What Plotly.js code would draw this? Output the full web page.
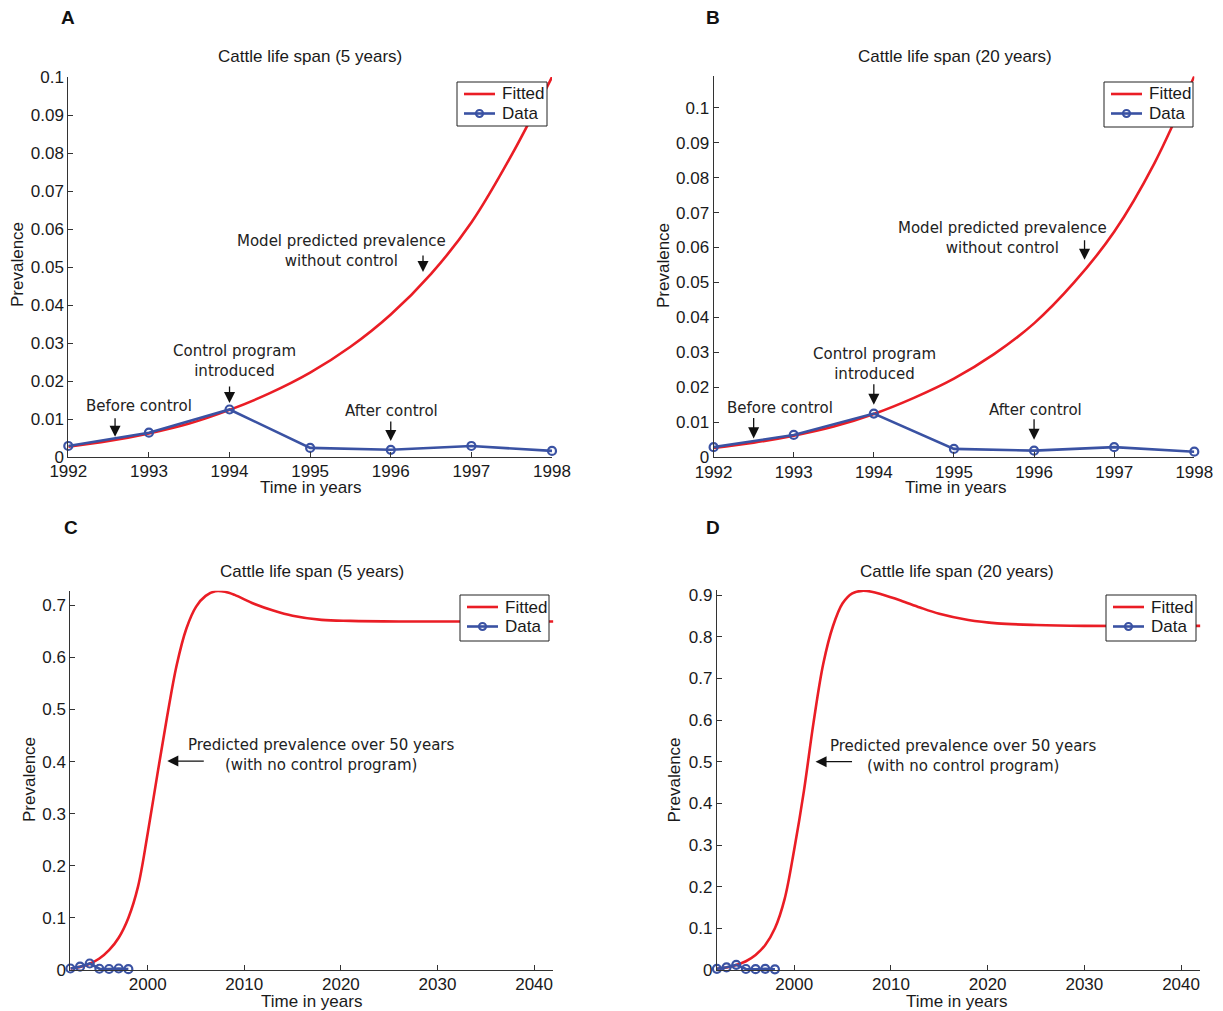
<!DOCTYPE html>
<html>
<head>
<meta charset="utf-8">
<script src="https://cdn.plot.ly/plotly-3.0.1.min.js"></script>
<style>
  html, body { margin: 0; padding: 0; background: #fff; }
  #chart { width: 1223px; height: 1011px; }
</style>
</head>
<body>
<div id="chart"></div>
<script>
// ---------------- data ----------------
const years = [1992, 1993, 1994, 1995, 1996, 1997, 1998];
const dataPrevalence = [0.0029, 0.0064, 0.0125, 0.0024, 0.0019, 0.0029, 0.0016];

const fitShortX = [1992, 1992.5, 1993, 1993.5, 1994, 1994.5, 1995, 1995.5, 1996, 1996.5, 1997, 1997.5, 1998];
const fitA = [0.0027, 0.0042, 0.0062, 0.0088, 0.0124, 0.0168, 0.0222, 0.0290, 0.0375, 0.0482, 0.0617, 0.0795, 0.1000];
const fitB = [0.0027, 0.0042, 0.0062, 0.0088, 0.0124, 0.0170, 0.0225, 0.0295, 0.0383, 0.0500, 0.0645, 0.0840, 0.1090];

const fitCX = [1992, 1993, 1994, 1995, 1996, 1997, 1998, 1999, 2000, 2001, 2002, 2003, 2004, 2005, 2006, 2007, 2008, 2009, 2011, 2013, 2015, 2018, 2021, 2026, 2034, 2042];
const fitC  = [0.003, 0.006, 0.012, 0.022, 0.038, 0.062, 0.100, 0.160, 0.262, 0.375, 0.485, 0.585, 0.655, 0.697, 0.718, 0.727, 0.726, 0.720, 0.703, 0.690, 0.680, 0.672, 0.670, 0.669, 0.669, 0.669];

const fitDX = [1992, 1993, 1994, 1995, 1996, 1997, 1998, 1999, 2000, 2001, 2002, 2003, 2004, 2005, 2006, 2007, 2008, 2009, 2011, 2013, 2015, 2018, 2021, 2025, 2030, 2042];
const fitD  = [0.003, 0.006, 0.012, 0.021, 0.036, 0.060, 0.100, 0.170, 0.290, 0.430, 0.595, 0.735, 0.825, 0.880, 0.904, 0.910, 0.908, 0.902, 0.887, 0.870, 0.855, 0.840, 0.832, 0.828, 0.826, 0.826];

const tickValsAB = [0, 0.01, 0.02, 0.03, 0.04, 0.05, 0.06, 0.07, 0.08, 0.09, 0.1];
const tickTextAB = ['0', '0.01', '0.02', '0.03', '0.04', '0.05', '0.06', '0.07', '0.08', '0.09', '0.1'];
const tickValsC = [0, 0.1, 0.2, 0.3, 0.4, 0.5, 0.6, 0.7];
const tickTextC = ['0', '0.1', '0.2', '0.3', '0.4', '0.5', '0.6', '0.7'];
const tickValsD = [0, 0.1, 0.2, 0.3, 0.4, 0.5, 0.6, 0.7, 0.8, 0.9];
const tickTextD = ['0', '0.1', '0.2', '0.3', '0.4', '0.5', '0.6', '0.7', '0.8', '0.9'];
const xTicksShort = [1992, 1993, 1994, 1995, 1996, 1997, 1998];
const xTicksLong = [2000, 2010, 2020, 2030, 2040];

const panelTitles = ['Cattle life span (5 years)', 'Cattle life span (20 years)', 'Cattle life span (5 years)', 'Cattle life span (20 years)'];
const panelLetters = ['A', 'B', 'C', 'D'];
const seriesNames = ['Fitted', 'Data'];

// ---------------- styling helpers ----------------
const W = 1223, H = 1011;
const px = x => x / W;
const py = y => 1 - y / H;
const RED = '#ea1d25';
const BLUE = '#3a52a3';
const AX = '#333333';
const TXT = '#1a1a1a';
const MAIN_FONT = 'Liberation Sans, Arial, sans-serif';
const NOTE_FONT = 'DejaVu Sans, sans-serif';

function fitted(x, y, xa, ya) {
  return { x: x, y: y, xaxis: xa, yaxis: ya, type: 'scatter', mode: 'lines', name: seriesNames[0],
    line: { color: RED, width: 2.6, shape: 'spline', smoothing: 1 }, cliponaxis: false, showlegend: false };
}
function observed(xa, ya) {
  return { x: years, y: dataPrevalence, xaxis: xa, yaxis: ya, type: 'scatter', mode: 'lines+markers', name: seriesNames[1],
    line: { color: BLUE, width: 2.6 }, marker: { symbol: 'circle-open', size: 8, color: BLUE, line: { width: 2.2, color: BLUE } },
    cliponaxis: false, showlegend: false };
}

const traces = [
  fitted(fitShortX, fitA, 'x', 'y'),
  observed('x', 'y'),
  fitted(fitShortX, fitB, 'x2', 'y2'),
  observed('x2', 'y2'),
  fitted(fitCX, fitC, 'x3', 'y3'),
  observed('x3', 'y3'),
  fitted(fitDX, fitD, 'x4', 'y4'),
  observed('x4', 'y4')
];

function xaxis(domain, range, tickvals, anchor) {
  return { domain: domain, range: range, anchor: anchor, tickmode: 'array', tickvals: tickvals,
    ticktext: tickvals.map(String), showline: true, linecolor: AX, linewidth: 1, ticks: 'inside', ticklen: 5,
    tickcolor: AX, showgrid: false, zeroline: false, tickfont: { family: MAIN_FONT, size: 17, color: TXT },
    ticklabelstandoff: -1, fixedrange: true };
}
function yaxis(domain, range, tickvals, ticktext, anchor) {
  return { domain: domain, range: range, anchor: anchor, tickmode: 'array', tickvals: tickvals, ticktext: ticktext,
    showline: true, linecolor: AX, linewidth: 1, ticks: 'inside', ticklen: 5, tickcolor: AX, showgrid: false,
    zeroline: false, tickfont: { family: MAIN_FONT, size: 17, color: TXT }, fixedrange: true };
}

const annotations = [];
const shapes = [];
function text(t, x, y, opts) {
  annotations.push(Object.assign({ text: t, x: px(x), y: py(y), xref: 'paper', yref: 'paper', showarrow: false,
    xanchor: 'center', yanchor: 'middle', font: { family: MAIN_FONT, size: 17, color: TXT } }, opts || {}));
}
function note(t, x, y) {
  text(t, x, y, { font: { family: NOTE_FONT, size: 15, color: '#222' } });
}
function arrow(xr, yr, x, y, ax, ay) {
  annotations.push({ text: '', x: x, y: y, xref: xr, yref: yr, showarrow: true, ax: ax, ay: ay,
    arrowhead: 2, arrowsize: 1.7, arrowwidth: 1.3, arrowcolor: '#111', standoff: 0, startstandoff: 0 });
}
// legend box drawn in page pixels (box left/top/right/bottom)
function legendBox(l, t, r, b) {
  shapes.push({ type: 'rect', xref: 'paper', yref: 'paper', x0: px(l), x1: px(r), y0: py(b), y1: py(t),
    line: { color: '#222', width: 1 }, fillcolor: '#ffffff', layer: 'above' });
  const row1 = t + 12, row2 = t + 31.5;
  shapes.push({ type: 'line', xref: 'paper', yref: 'paper', x0: px(l + 7), x1: px(l + 38), y0: py(row1), y1: py(row1),
    line: { color: RED, width: 2.6 }, layer: 'above' });
  shapes.push({ type: 'line', xref: 'paper', yref: 'paper', x0: px(l + 7), x1: px(l + 38), y0: py(row2), y1: py(row2),
    line: { color: BLUE, width: 2.6 }, layer: 'above' });
  const cx = l + 22.5;
  shapes.push({ type: 'circle', xref: 'paper', yref: 'paper', x0: px(cx - 3.5), x1: px(cx + 3.5), y0: py(row2 + 3.5), y1: py(row2 - 3.5),
    line: { color: BLUE, width: 2.2 }, fillcolor: 'rgba(0,0,0,0)', layer: 'above' });
  text(seriesNames[0], l + 43, row1, { xanchor: 'left' });
  text(seriesNames[1], l + 43, row2, { xanchor: 'left' });
}

// titles
text(panelTitles[0], 310, 56.5);
text(panelTitles[1], 955, 56.5);
text(panelTitles[2], 312, 571);
text(panelTitles[3], 957, 571);
// panel letters
const letterFont = { family: MAIN_FONT, size: 19, color: '#111' };
text('<b>' + panelLetters[0] + '</b>', 68, 18, { font: letterFont });
text('<b>' + panelLetters[1] + '</b>', 713, 18, { font: letterFont });
text('<b>' + panelLetters[2] + '</b>', 70.5, 527, { font: letterFont });
text('<b>' + panelLetters[3] + '</b>', 713, 527, { font: letterFont });
// axis titles
text('Time in years', 310, 488);
text('Time in years', 955, 488);
text('Time in years', 311.5, 1001);
text('Time in years', 956, 1001);
text('Prevalence', 17, 265, { textangle: -90 });
text('Prevalence', 663, 265, { textangle: -90 });
text('Prevalence', 29, 780, { textangle: -90 });
text('Prevalence', 673.5, 780, { textangle: -90 });

// panel A notes
note('Before control', 139, 406);
note('Control program<br>introduced', 234, 361);
note('After control', 391, 411);
note('Model predicted prevalence<br>without control', 341, 251);
arrow('x', 'y', 1992.58, 0.0053, 0, -20);
arrow('x', 'y', 1994.0, 0.0142, 0, -18);
arrow('x', 'y', 1996.0, 0.0042, 0, -21);
arrow('x', 'y', 1996.40, 0.0487, 0, -18);
// panel B notes
note('Before control', 780, 408);
note('Control program<br>introduced', 874, 364.5);
note('After control', 1035, 410);
note('Model predicted prevalence<br>without control', 1002, 238);
arrow('x2', 'y2', 1992.50, 0.0054, 0, -22);
arrow('x2', 'y2', 1994.0, 0.0150, 0, -22);
arrow('x2', 'y2', 1996.0, 0.0050, 0, -22);
arrow('x2', 'y2', 1996.63, 0.0565, 0, -21);
// panel C / D notes
note('Predicted prevalence over 50 years<br>(with no control program)', 321, 755);
note('Predicted prevalence over 50 years<br>(with no control program)', 963, 756);
arrow('x3', 'y3', 2002.03, 0.401, 38, 0);
arrow('x4', 'y4', 2002.2, 0.500, 38, 0);

// legends
legendBox(457, 82, 547, 126);
legendBox(1104, 82, 1193, 127);
legendBox(460, 595, 549, 641);
legendBox(1106, 595, 1196, 641);

const layout = {
  width: W, height: H,
  margin: { l: 0, r: 0, t: 0, b: 0 },
  paper_bgcolor: '#ffffff', plot_bgcolor: '#ffffff',
  showlegend: false,
  xaxis:  xaxis([px(68.3), px(552)], [1992, 1998], xTicksShort, 'y'),
  yaxis:  yaxis([py(457), py(77)], [0, 0.1], tickValsAB, tickTextAB, 'x'),
  xaxis2: xaxis([px(713.6), px(1194.3)], [1992, 1998], xTicksShort, 'y2'),
  yaxis2: yaxis([py(457.3), py(76.2)], [0, 0.109], tickValsAB, tickTextAB, 'x2'),
  xaxis3: xaxis([px(70.4), px(553.4)], [1992, 2042], xTicksLong, 'y3'),
  yaxis3: yaxis([py(970), py(590.7)], [0, 0.728], tickValsC, tickTextC, 'x3'),
  xaxis4: xaxis([px(716.9), px(1200.4)], [1992, 2042], xTicksLong, 'y4'),
  yaxis4: yaxis([py(970), py(590)], [0, 0.912], tickValsD, tickTextD, 'x4'),
  shapes: shapes,
  annotations: annotations
};

Plotly.newPlot('chart', traces, layout, { displayModeBar: false, staticPlot: true });
</script>
</body>
</html>
